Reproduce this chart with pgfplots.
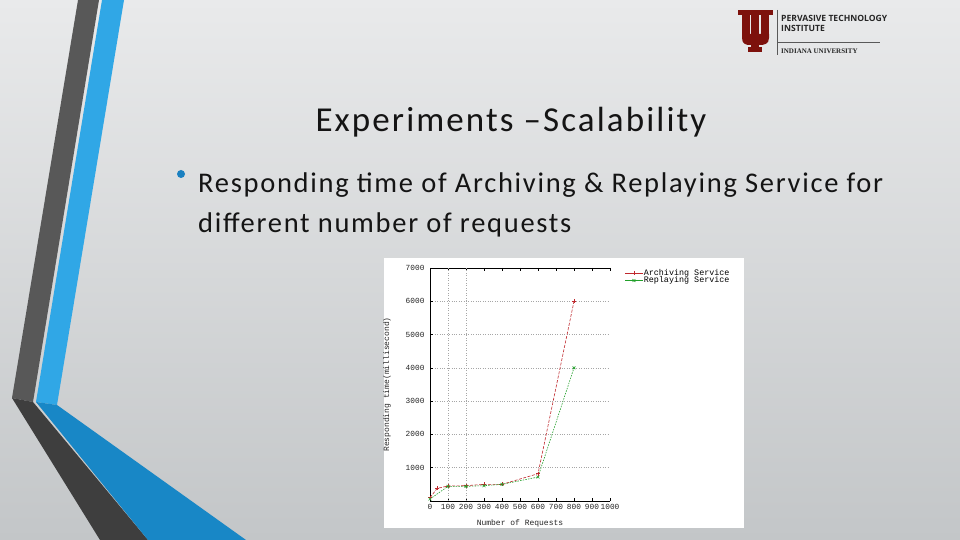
\documentclass[border=0pt]{standalone}
\usepackage{pgfplots}
\pgfplotsset{compat=1.18}
\usepackage{fontspec}
\setmainfont{Carlito}
\newfontfamily\monof{Liberation Mono}
\newfontfamily\logosans{Open Sans}
\newfontfamily\logoserif{Liberation Serif}
\definecolor{bgtop}{HTML}{E9EAEB}
\definecolor{bgbot}{HTML}{C3C6C8}
\definecolor{stripegray}{HTML}{585858}
\definecolor{stripegraydk}{HTML}{3E3E3E}
\definecolor{stripeblue}{HTML}{30A7E6}
\definecolor{stripebluedk}{HTML}{1887C6}
\definecolor{bulletblue}{HTML}{1A80C0}
\definecolor{iured}{HTML}{7D110C}
\definecolor{gpred}{HTML}{C0282D}
\definecolor{gpgreen}{HTML}{22A02A}
\begin{document}
\begin{tikzpicture}[x=1pt,y=1pt]
% background
\shade[top color=bgtop, bottom color=bgbot] (0,0) rectangle (960,540);
% stripes (y = 540 - pixel y)
\fill[stripegray] (78,540) -- (99,540) -- (33,138) -- (12,142) -- cycle;
\fill[stripegraydk] (12,142) -- (33,138) -- (148,0) -- (100,0) -- cycle;
\fill[stripeblue] (102,540) -- (124,540) -- (57,135) -- (36,138) -- cycle;
\fill[stripebluedk] (36,138) -- (57,135) -- (246,0) -- (148,0) -- cycle;
% logo
\begin{scope}[iured]
\fill (738,530) rectangle (752,525);
\fill (742,526) rectangle (750,502);
\fill (759,530) rectangle (773,525);
\fill (761,526) rectangle (769,502);
\fill (748,530) rectangle (762,526);
\fill (751,527) rectangle (759,492);
\fill (742,506) -- (769,506) -- (769,502) .. controls (769,496) and (764,495) .. (760,495) -- (750,495) .. controls (746,495) and (742,496) .. (742,502) -- cycle;
\fill (748,493) rectangle (762,488);
\end{scope}
\draw[gray!70!black, line width=0.6pt] (777,530) -- (777,485);
\draw[gray!70!black, line width=0.6pt] (777,498) -- (880,498);
\node[anchor=base west, inner sep=0pt, font=\logosans\bfseries\fontsize{8.6}{10}\selectfont, text=black!85] at (781,518) {PERVASIVE TECHNOLOGY};
\node[anchor=base west, inner sep=0pt, font=\logosans\bfseries\fontsize{8.6}{10}\selectfont, text=black!85] at (781,508) {INSTITUTE};
\node[anchor=base west, inner sep=0pt, font=\logoserif\bfseries\fontsize{7}{8}\selectfont, text=black!85] at (781,486) {INDIANA UNIVERSITY};
% title
\node[anchor=base, inner sep=0pt, font=\addfontfeatures{LetterSpace=6}\fontsize{35}{40}\selectfont, text=black!92] at (511,408) {Experiments –Scalability};
% bullet
\fill[bulletblue] (181,366) circle (4);
\node[anchor=base west, inner sep=0pt, font=\addfontfeatures{LetterSpace=6}\fontsize{28.5}{33}\selectfont, text=black!92] at (198,347) {Responding time of Archiving \& Replaying Service for};
\node[anchor=base west, inner sep=0pt, font=\addfontfeatures{LetterSpace=6}\fontsize{28.5}{33}\selectfont, text=black!92] at (198,307) {different number of requests};
% chart background
\fill[white] (384,12) rectangle (744,282);
\coordinate (axpos) at (430,39);
\begin{axis}[
  at={(axpos)}, anchor=south west,
  scale only axis, width=180pt, height=233pt,
  xmin=0, xmax=1000, ymin=0, ymax=7000,
  xtick={0,100,...,1000}, ytick={1000,2000,...,7000},
  axis y line*=left, axis x line*=box,
  axis line style={black, line width=0.8pt},
  tick style={black, line width=0.5pt},
  tick align=inside, major tick length=3pt,
  xticklabel style={yshift=0pt},
  yticklabel style={xshift=-2pt},
  ymajorgrids, grid style={gray!70, dotted, line width=0.5pt},
  /pgf/number format/assume math mode=true,
  /pgf/number format/1000 sep={},
  tick label style={font=\monof\fontsize{7.8}{8}\selectfont, text=black!85},
  xlabel={Number of Requests}, ylabel={Responding time(millisecond)},
  label style={font=\monof\fontsize{8}{9}\selectfont, text=black!85},
  xlabel style={yshift=-3pt}, ylabel style={yshift=8pt},
  legend style={at={(1.083,1)}, anchor=north west, draw=none, fill=none,
    font=\monof\fontsize{8.4}{9}\selectfont, inner sep=0pt, row sep=-2pt,
    nodes={inner sep=1pt}},
  legend cell align=left,
  legend image post style={solid},
]
\addplot[gray!70, dotted, line width=0.5pt, forget plot] coordinates {(100,0) (100,7000)};
\addplot[gray!70, dotted, line width=0.5pt, forget plot] coordinates {(200,0) (200,7000)};
\addplot[gpred, line width=0.6pt, dash pattern=on 3pt off 1.5pt, mark=+, mark size=2pt, mark options={solid}]
  coordinates {(0,100) (40,380) (100,450) (200,460) (300,500) (400,500) (600,820) (800,6000)};
\addlegendentry{Archiving Service}
\addplot[gpgreen, line width=0.6pt, dash pattern=on 1.5pt off 1.2pt, mark=x, mark size=2pt, mark options={solid}]
  coordinates {(0,60) (100,440) (200,440) (300,460) (400,500) (600,720) (800,4000)};
\addlegendentry{Replaying Service}
\end{axis}
\pgfresetboundingbox
\path[use as bounding box] (0,0) rectangle (960,540);
\end{tikzpicture}
\end{document}
